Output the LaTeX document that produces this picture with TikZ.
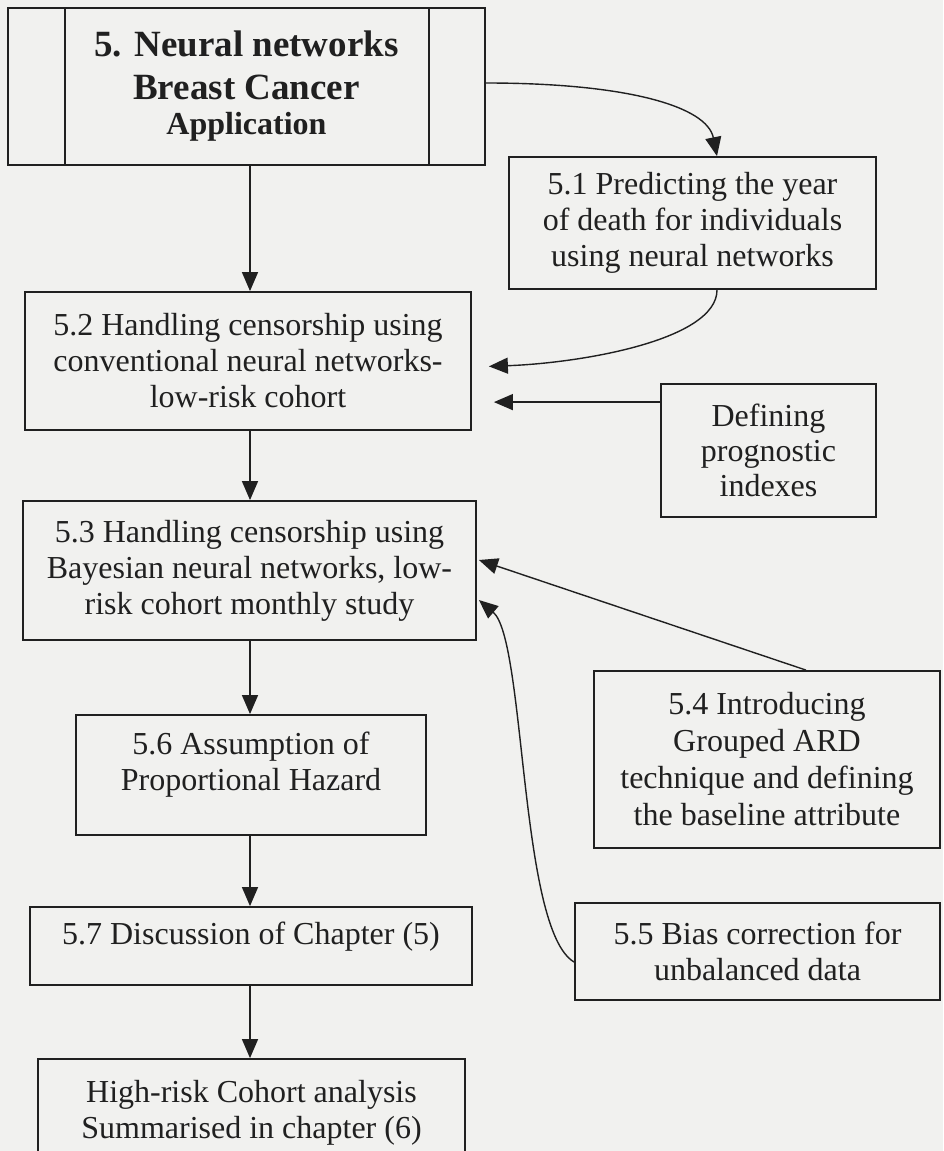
\documentclass[tikz,border=0pt]{standalone}
\usepackage{fontspec}
\setmainfont{Liberation Serif}
\usetikzlibrary{arrows.meta,calc}
\definecolor{paper}{RGB}{241,241,239}
\definecolor{ink}{RGB}{32,32,32}

\begin{document}
\begin{tikzpicture}[x=1pt,y=-1pt,
  box/.style={draw=ink,line width=1.8pt,rectangle,align=center,inner sep=0pt,
    text=ink,font=\fontsize{32}{36}\selectfont},
  boxtext/.style={align=center,inner sep=0pt,text=ink,font=\fontsize{32}{36}\selectfont},
  link/.style={draw=ink,line width=1.4pt,-{Triangle[length=19pt,width=16pt]}},
]
\fill[paper] (0,0) rectangle (943,1151);
\useasboundingbox (0,0) rectangle (943,1151);

% main column
\node[box,minimum width=477pt,minimum height=157pt,
      font=\fontsize{37}{43}\selectfont\bfseries] (top) at (246.5,86.5)
  {5. Neural networks\\Breast Cancer\\[-8pt]{\fontsize{32}{35}\selectfont Application}};
\draw[ink,line width=1.8pt] ([xshift=58pt]top.north west) -- ([xshift=58pt]top.south west);
\draw[ink,line width=1.8pt] ([xshift=-57pt]top.north east) -- ([xshift=-57pt]top.south east);

\node[box,minimum width=446pt,minimum height=138pt] (b52) at (248,361)
  {5.2 Handling censorship using\\conventional neural networks-\\low-risk cohort};
\node[box,minimum width=453pt,minimum height=139pt] (b53) at (249.5,570.5)
  {5.3 Handling censorship using\\Bayesian neural networks, low-\\risk cohort monthly study};
\node[box,minimum width=350pt,minimum height=120pt] (b56) at (251,775) {};
\node[boxtext] (b56t) at ([yshift=10pt]b56.center) {5.6 Assumption of\\Proportional Hazard};
\node[box,minimum width=442pt,minimum height=78pt] (b57) at (251,946) {};
\node[boxtext] (b57t) at ([yshift=9pt]b57.center) {5.7 Discussion of Chapter (5)};
\node[box,minimum width=427pt,minimum height=108pt] (hr) at (251.5,1113)
  {High-risk Cohort analysis\\Summarised in chapter (6)};

% side column
\node[box,minimum width=367pt,minimum height=132pt] (b51) at (692.5,223)
  {5.1 Predicting the year\\of death for individuals\\using neural networks};
\node[box,minimum width=215pt,minimum height=133pt,
      font=\fontsize{32}{35}\selectfont] (def) at (768.5,450.5)
  {Defining\\prognostic\\indexes};
\node[box,minimum width=346pt,minimum height=177pt,
      font=\fontsize{32}{37}\selectfont] (b54) at (767,759.5)
  {5.4 Introducing\\Grouped ARD\\technique and defining\\the baseline attribute};
\node[box,minimum width=365pt,minimum height=97pt] (b55) at (757.5,951.5)
  {5.5 Bias correction for\\unbalanced data};

% vertical flow
\coordinate (spine) at (250,0);
\draw[link] (top.south -| spine) -- (b52.north -| spine);
\draw[link] (b52.south -| spine) -- (b53.north -| spine);
\draw[link] (b53.south -| spine) -- (b56.north -| spine);
\draw[link] (b56.south -| spine) -- (b57.north -| spine);
\draw[link] (b57.south -| spine) -- (hr.north -| spine);

% side connectors
\draw[link] ([yshift=3.5pt]top.east) .. controls +(140,0) and +(-10,-50) .. ([xshift=24.5pt]b51.north);
\draw[link,shorten >=17pt] ([xshift=24.5pt]b51.south) .. controls +(0,50) and +(110,-4) .. ([yshift=-6pt]b52.east);
\draw[link,shorten >=22pt] ([yshift=-19pt]def.north west) -- ([yshift=-19pt]def.north west -| b52.east);
\draw[link] ([xshift=39pt]b54.north) -- ([xshift=2pt,yshift=10.5pt]b53.east);
\draw[link] ([yshift=-10.5pt]b55.west) .. controls +(-55,-32) and +(47,40) .. ([xshift=2pt,yshift=-29.5pt]b53.east);
\end{tikzpicture}
\end{document}
